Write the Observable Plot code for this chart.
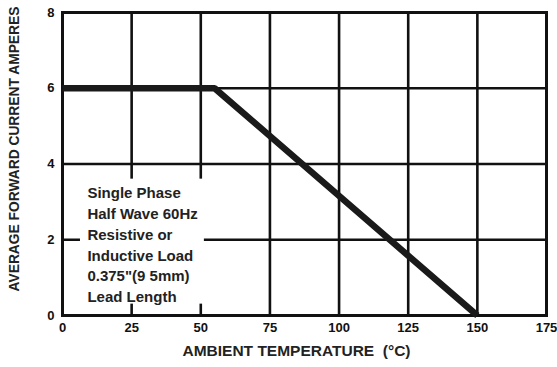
<!DOCTYPE html>
<html>
<head>
<meta charset="utf-8">
<script src="https://cdn.jsdelivr.net/npm/d3@7"></script>
<script src="https://cdn.jsdelivr.net/npm/@observablehq/plot@0.6"></script>
<style>
  html, body { margin: 0; padding: 0; background: #fff; }
  #chart { width: 557px; height: 367px; overflow: hidden; }
</style>
</head>
<body>
<div id="chart"></div>
<script>
// Derating curve data
const temperature = [0, 55, 150];          // ambient temperature, °C
const current = [6, 6, 0];                 // average forward current, A
const xTicks = [0, 25, 50, 75, 100, 125, 150, 175];
const yTicks = [0, 2, 4, 6, 8];
const chartTitle = "CURVE";
const xLabel = "AMBIENT TEMPERATURE  (\u00B0C)";
const yLabel = "AVERAGE FORWARD CURRENT AMPERES";
const noteLines = ["Single Phase", "Half Wave 60Hz", "Resistive or", "Inductive Load", "0.375\"(9 5mm)", "Lead Length"];

const data = temperature.map((t, i) => ({t, a: current[i]}));
const font = "'Liberation Sans', Arial, Helvetica, sans-serif";

const chart = Plot.plot({
  width: 557,
  height: 367,
  marginLeft: 62,
  marginRight: 11,
  marginTop: 12,
  marginBottom: 52,
  style: {fontFamily: font, background: "#fff", color: "#111", overflow: "visible"},
  x: {domain: [0, 175]},
  y: {domain: [0, 8]},
  marks: [
    Plot.gridX(xTicks, {stroke: "#111", strokeOpacity: 1, strokeWidth: 2.6}),
    Plot.gridY(yTicks, {stroke: "#111", strokeOpacity: 1, strokeWidth: 2.6}),
    // white panel behind the note
    Plot.rect([0], {x1: 6.5, x2: 51.3, y1: 0.3, y2: 3.6, fill: "#fff"}),
    Plot.frame({stroke: "#111", strokeWidth: 3}),
    Plot.line(data, {x: "t", y: "a", stroke: "#1a1a1a", strokeWidth: 6.5, strokeLinecap: "butt", strokeLinejoin: "miter"}),
    Plot.axisX(xTicks, {tickSize: 0, tickPadding: 7, fontSize: 13, fontWeight: "bold", label: null, fill: "#111"}),
    Plot.axisY(yTicks, {tickSize: 0, tickPadding: 8, fontSize: 13, fontWeight: "bold", label: null, fill: "#111"}),
    Plot.text([noteLines.join("\n")], {x: 9, y: 1.9, text: d => d, textAnchor: "start", lineAnchor: "middle", lineHeight: 1.38, fontSize: 15, fontWeight: "bold", fill: "#222"}),
    Plot.text([yLabel], {frameAnchor: "left", text: d => d, textAnchor: "middle", lineAnchor: "middle", rotate: -90, dx: -48, dy: -15, fontSize: 13.8, fontWeight: "bold", fill: "#222"}),
    Plot.text([xLabel], {frameAnchor: "bottom", text: d => d, textAnchor: "middle", lineAnchor: "middle", dx: -8, dy: 36, fontSize: 15.5, fontWeight: "bold", fill: "#222"}),
    Plot.text([chartTitle], {frameAnchor: "top-left", text: d => d, textAnchor: "middle", lineAnchor: "middle", dx: 95, dy: -17, fontSize: 14, fontWeight: "bold", fill: "#222"})
  ]
});
document.getElementById("chart").appendChild(chart);
</script>
</body>
</html>
